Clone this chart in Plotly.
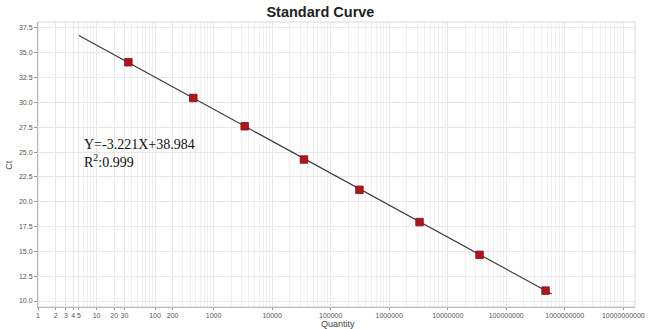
import numpy as np
import plotly.graph_objects as go

# Standard dilution series: template quantity vs. threshold cycle
quantity = [35, 450, 3400, 35000, 310000, 3300000, 35000000, 470000000]
ct = [34.05, 30.45, 27.6, 24.25, 21.2, 17.95, 14.65, 11.05]

# Fitted regression (Ct = slope * log10(Q) + intercept)
slope = -3.221
intercept = 38.984
r_squared = 0.999
fit_range = [5, 6.0e8]

x_tickvals = [1, 2, 3, 4, 5, 10, 20, 30, 100, 200, 1e3, 1e4, 1e5, 1e6,
              1e7, 1e8, 1e9, 1e10]
x_ticktext = ["1", "2", "3", "4", "5", "10", "20", "30", "100", "200",
              "1000", "10000", "100000", "1000000", "10000000",
              "100000000", "1000000000", "10000000000"]
y_tickvals = [10.0, 12.5, 15.0, 17.5, 20.0, 22.5, 25.0, 27.5, 30.0,
              32.5, 35.0, 37.5]

minor_vals = [m * 10 ** d for d in range(0, 11) for m in range(2, 10)]

fit_x = np.logspace(np.log10(fit_range[0]), np.log10(fit_range[1]), 50)
fit_y = slope * np.log10(fit_x) + intercept

fig = go.Figure()
fig.add_trace(go.Scatter(
    x=fit_x, y=fit_y, mode="lines",
    line=dict(color="#3a3a3a", width=1.2),
    hoverinfo="skip", showlegend=False))
fig.add_trace(go.Scatter(
    x=quantity, y=ct, mode="markers",
    marker=dict(symbol="square", size=7.5, color="#b3141c",
                line=dict(color="#7a0e12", width=0.8)),
    showlegend=False))

# Regression equation
fig.add_annotation(
    x=0.074, y=0.475, xref="paper", yref="paper",
    xanchor="left", yanchor="bottom", showarrow=False, align="left",
    text=f"Y={slope:.3f}X+{intercept:.3f}<br>R<sup>2</sup>:{r_squared:.3f}",
    font=dict(family="Liberation Serif", size=14, color="#111111"))

# Axis titles
fig.add_annotation(
    x=0.503, y=-0.06, xref="paper", yref="paper",
    xanchor="center", yanchor="middle", showarrow=False, text="Quantity",
    font=dict(family="Liberation Sans", size=9, color="#444444"))
fig.add_annotation(
    x=-0.05, y=0.5, xref="paper", yref="paper",
    xanchor="center", yanchor="middle", showarrow=False, text="Ct",
    textangle=-90,
    font=dict(family="Liberation Sans", size=9, color="#444444"))

grid_col = "#e8e8e8"
fig.update_layout(
    width=650, height=329,
    margin=dict(l=38, r=15, t=22, b=22, autoexpand=False),
    paper_bgcolor="white", plot_bgcolor="white",
    title=dict(text="<b>Standard Curve</b>", x=0.493, xanchor="center",
               y=0.9635, yanchor="middle",
               font=dict(family="Liberation Sans", size=14.5,
                         color="#222222")),
    font=dict(family="Liberation Sans", size=7, color="#555555"),
    xaxis=dict(
        type="log", range=[0, 10.2], automargin=False,
        tickvals=x_tickvals, ticktext=x_ticktext, tickangle=0,
        showgrid=True, gridcolor=grid_col, gridwidth=1,
        minor=dict(tickvals=minor_vals, showgrid=True,
                   gridcolor="#f0f0f0", gridwidth=1, ticks=""),
        showline=True, linecolor="#9a9a9a", linewidth=1, mirror=False,
        ticks="outside", ticklen=2, tickcolor="#9a9a9a",
        zeroline=False),
    yaxis=dict(
        range=[9.4, 38.1], automargin=False,
        tickvals=y_tickvals, ticktext=[f"{v:.1f}" for v in y_tickvals],
        showgrid=True, gridcolor=grid_col, gridwidth=1,
        showline=True, linecolor="#9a9a9a", linewidth=1,
        ticks="outside", ticklen=3, tickcolor="#9a9a9a",
        zeroline=False),
    shapes=[dict(type="rect", xref="paper", yref="paper",
                 x0=0, y0=0, x1=1, y1=1,
                 line=dict(color="#d8d8d8", width=1))],
)

fig.write_html("out.html")
